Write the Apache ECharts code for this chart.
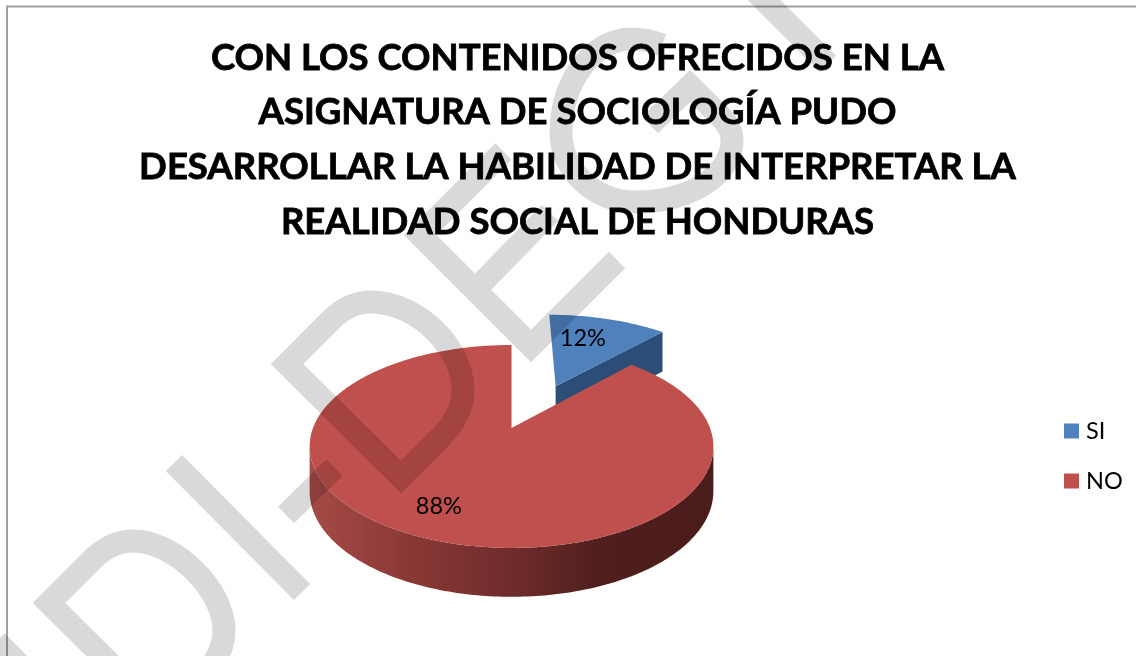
<!DOCTYPE html>
<html><head><meta charset="utf-8">
<style>html,body{margin:0;padding:0;background:#fff}#c{width:1136px;height:656px}</style>
<script src="https://cdn.jsdelivr.net/npm/echarts@6/dist/echarts.min.js"></script>
</head><body><div id="c"></div>
<script>
const categories = ['SI', 'NO'];
const values = [12, 88];
const titleLines = [
  'CON LOS CONTENIDOS OFRECIDOS EN LA',
  'ASIGNATURA DE SOCIOLOGÍA PUDO',
  'DESARROLLAR LA HABILIDAD DE INTERPRETAR LA',
  'REALIDAD SOCIAL DE HONDURAS'
];
const colors = ['#4f81bd', '#c0504d'];
const total = values[0] + values[1];

// Perspective view of the pie disc
const view = { x0: 511.5, y0: 428, A: 198.5, B: 98.1, k: 0.182, depth: 44, depthK: 0.1, explode: 0.52, explodeTurn: 6 };
const labelPlace = [{ r: 0.68, dx: -10, dy: 0 }, { r: 0.77, dx: -8, dy: -2 }];

function project(u, v, drop) {
  const w = 1 + view.k * v;
  return [view.x0 + view.A * u / w, view.y0 - view.B * v / w + (drop ? view.depth / (1 + view.depthK * v) : 0)];
}
function polar(deg, r, ox, oy) {
  const a = deg * Math.PI / 180;
  return [ox + r * Math.sin(a), oy + r * Math.cos(a)];
}
function arcPts(from, to, ox, oy, drop) {
  const pts = [];
  const n = Math.max(2, Math.ceil(Math.abs(to - from)));
  for (let i = 0; i <= n; i++) {
    const p = polar(from + (to - from) * i / n, 1, ox, oy);
    pts.push(project(p[0], p[1], drop));
  }
  return pts;
}
function labelEl(idx, mid, ox, oy) {
  const pl = labelPlace[idx];
  const p = polar(mid, pl.r, ox, oy);
  const xy = project(p[0], p[1], false);
  return {
    type: 'text', z2: 10,
    style: {
      x: xy[0] + pl.dx, y: xy[1] + pl.dy,
      text: Math.round(values[idx] / total * 100) + '%',
      fill: '#000', font: '23.5px Lato', align: 'center', verticalAlign: 'middle'
    }
  };
}
function drawSlice(params, api) {
  const idx = params.seriesIndex;
  const val = api.value(0);
  const start = idx === 0 ? 0 : values[0] / total * 360;
  const end = start + val / total * 360;
  const mid = (start + end) / 2;
  const children = [];
  if (idx === 0) {
    const off = polar(mid + view.explodeTurn, view.explode, 0, 0);
    const apex = project(off[0], off[1], false);
    const apexB = project(off[0], off[1], true);
    const rim = polar(end, 1, off[0], off[1]);
    children.push({ type: 'polygon', shape: { points: [apex, project(rim[0], rim[1], false), project(rim[0], rim[1], true), apexB] }, style: { fill: '#2c4d75' } });
    children.push({ type: 'polygon', shape: { points: [apex].concat(arcPts(start, end, off[0], off[1], false)) }, style: { fill: colors[0] } });
    children.push(labelEl(0, mid, off[0], off[1]));
  } else {
    const rim = arcPts(start, end, 0, 0, false);
    let iR = 0, iL = 0;
    rim.forEach((p, i) => { if (p[0] > rim[iR][0]) iR = i; if (p[0] < rim[iL][0]) iL = i; });
    const front = rim.slice(iR, iL + 1);
    const n = end - start;
    const dropped = arcPts(start + iR / (rim.length - 1) * n, start + iL / (rim.length - 1) * n, 0, 0, true);
    children.push({
      type: 'polygon',
      shape: { points: front.concat(dropped.reverse()) },
      style: {
        fill: new echarts.graphic.LinearGradient(0, 0, 1, 0, [
          { offset: 0, color: '#a64a47' }, { offset: 0.25, color: '#8a3835' },
          { offset: 0.5, color: '#6e2c2b' }, { offset: 0.72, color: '#4f1f1d' },
          { offset: 1, color: '#4a1c1a' }
        ])
      }
    });
    children.push({ type: 'polygon', shape: { points: [project(0, 0, false)].concat(rim) }, style: { fill: colors[1] } });
    children.push(labelEl(1, mid, 0, 0));
  }
  return { type: 'group', children };
}

const wmStyle = { fill: 'none', stroke: 'rgba(0,0,0,0.15)', lineWidth: 23, lineJoin: 'miter', miterLimit: 10, lineCap: 'butt' };
const watermarkPaths = [
  'M-3.5 641.5 L40 685',
  'M163 716 L49 603 L92 560 C105 547 119 541 133 541 C175 541 224 590 224 630 C224 650 214 665 201 678 Z',
  'M174 463 L302 592',
  'M286 515 L334.5 467.5',
  'M401 477 L287 364 L330 321 C343 308 356 302 370 302 C420 302 463 350 463 390 C463 410 453 425 440 438 Z',
  'M503.5 151.5 L420 235 L531 346 L617 260 M475 290 L550 213',
  'M662 45 C652 41 642 39 632 39 C590 39 561 85 561 133 C561 170 595 202 635 202 C690 202 732 175 732 140 C732 132 728 124 720 116 L690 86 L650 125',
  'M828 64 L740 -24'
];
function drawWatermark() {
  return {
    type: 'group',
    children: watermarkPaths.map(p => ({ type: 'path', shape: { pathData: p }, style: wmStyle }))
  };
}

const chart = echarts.init(document.getElementById('c'), null, { renderer: 'canvas' });
chart.setOption({
  backgroundColor: '#fff',
  animation: false,
  title: {
    text: titleLines.join('\n'),
    left: 572.5, top: 25.5, textAlign: 'center',
    textStyle: { fontFamily: 'Lato', fontWeight: 'bold', fontSize: 36.5, lineHeight: 54.7, color: '#000', align: 'center', textBorderColor: '#000', textBorderWidth: 0.8 }
  },
  legend: {
    orient: 'vertical', left: 1064, top: 419, padding: 0, itemWidth: 15, itemHeight: 15, itemGap: 26,
    icon: 'rect', selectedMode: false, data: categories,
    textStyle: { fontFamily: 'Lato', fontSize: 23.5, lineHeight: 15, color: '#000', padding: [0, 0, 0, 2] }
  },
  series: categories.map((name, i) => ({
    type: 'custom', name, coordinateSystem: 'none', silent: true,
    itemStyle: { color: colors[i] },
    renderItem: drawSlice,
    data: [[values[i]]]
  })).concat([{
    type: 'custom', name: 'watermark', coordinateSystem: 'none', silent: true, z: 100,
    renderItem: drawWatermark, data: [[0]]
  }]),
  graphic: [
    { type: 'polyline', silent: true, z: 50, shape: { points: [[7, 656], [7, 6.5], [1136, 6.5]] }, style: { fill: 'none', stroke: '#a0a0a0', lineWidth: 2 } }
  ]
});
</script></body></html>
